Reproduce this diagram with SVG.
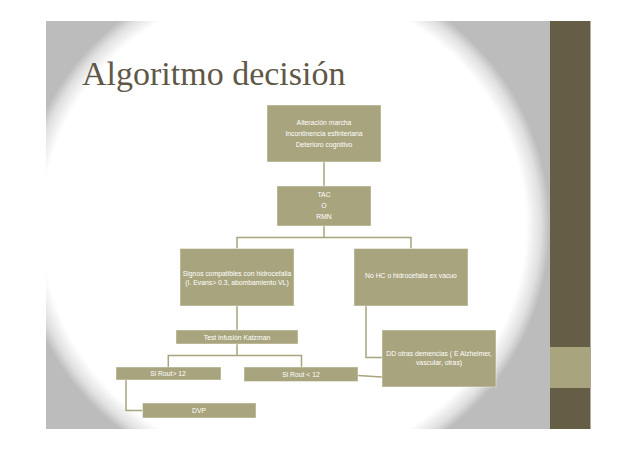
<svg xmlns="http://www.w3.org/2000/svg" width="637" height="450" viewBox="0 0 637 450">
<defs>
<radialGradient id="bg" gradientUnits="userSpaceOnUse" cx="0" cy="0" r="1" gradientTransform="translate(284 225) scale(266 260)">
<stop offset="0" stop-color="#FFFFFF"/>
<stop offset="0.91" stop-color="#FFFFFF"/>
<stop offset="0.965" stop-color="#E0E0E0"/>
<stop offset="1" stop-color="#BCBCBC"/>
</radialGradient>
<style>
.box{fill:#A8A47D;stroke:#FFFFFF;stroke-opacity:0.55;stroke-width:0.8}
.t{font-family:"Liberation Sans",Arial,sans-serif;font-size:6.8px;fill:#FFFFFF;text-anchor:middle}
.c{fill:none;stroke:#A8A47D;stroke-width:1.5}
</style>
</defs>
<rect x="0" y="0" width="637" height="450" fill="#FFFFFF"/>
<rect x="46" y="21" width="504" height="408" fill="url(#bg)"/>
<g id="sidebar">
<rect x="550" y="21" width="40.5" height="408" fill="#665D47"/>
<rect x="550" y="347" width="40.5" height="41" fill="#A8A47D"/>
</g>
<text x="82" y="85" font-family="'Liberation Serif',Cambria,serif" font-size="34" fill="#5F5846">Algoritmo decisión</text>
<g id="connectors">
<path class="c" d="M324 162V186"/>
<path class="c" d="M324 226V237.5M237 248.5V237.5H411V248.5"/>
<path class="c" d="M237 306V330"/>
<path class="c" d="M237 344V355.5M168.3 367V355.5H301.5V367"/>
<path class="c" d="M126 380V410.5H142.5"/>
<path class="c" d="M366 306V357.5H382"/>
<path class="c" d="M358 375.5L382 377"/>
</g>
<g id="n1">
<rect class="box" x="267" y="105" width="114" height="57"/>
<text class="t" x="324" y="125">Alteración marcha</text>
<text class="t" x="324" y="136">Incontinencia esfinteriana</text>
<text class="t" x="324" y="147">Deterioro cognitivo</text>
</g>
<g id="n2">
<rect class="box" x="277" y="186" width="94" height="40"/>
<text class="t" x="324" y="196.5">TAC</text>
<text class="t" x="324" y="208">O</text>
<text class="t" x="324" y="219">RMN</text>
</g>
<g id="n3">
<rect class="box" x="180" y="248.5" width="114" height="57.5"/>
<text class="t" x="237" y="275.5">Signos compatibles con hidrocefalia</text>
<text class="t" x="237" y="285">(I. Evans&gt; 0.3, abombamiento VL)</text>
</g>
<g id="n4">
<rect class="box" x="354" y="248.5" width="114" height="57.5"/>
<text class="t" x="411" y="278.3">No HC o hidrocefalia ex vacuo</text>
</g>
<g id="n5">
<rect class="box" x="176" y="330" width="122" height="14"/>
<text class="t" x="237" y="339.5">Test infusión Katzman</text>
</g>
<g id="n6">
<rect class="box" x="116" y="367" width="105" height="13"/>
<text class="t" x="168" y="376">Si Rout&gt; 12</text>
</g>
<g id="n7">
<rect class="box" x="244" y="367" width="114" height="14.5"/>
<text class="t" x="301" y="376.5">Si Rout &lt; 12</text>
</g>
<g id="n8">
<rect class="box" x="142.5" y="403" width="113.5" height="15"/>
<text class="t" x="199" y="413">DVP</text>
</g>
<g id="n9">
<rect class="box" x="382" y="330" width="114" height="57"/>
<text class="t" x="439" y="355.6">DD otras demencias ( E Alzheimer,</text>
<text class="t" x="439" y="365">vascular, otras)</text>
</g>
</svg>
